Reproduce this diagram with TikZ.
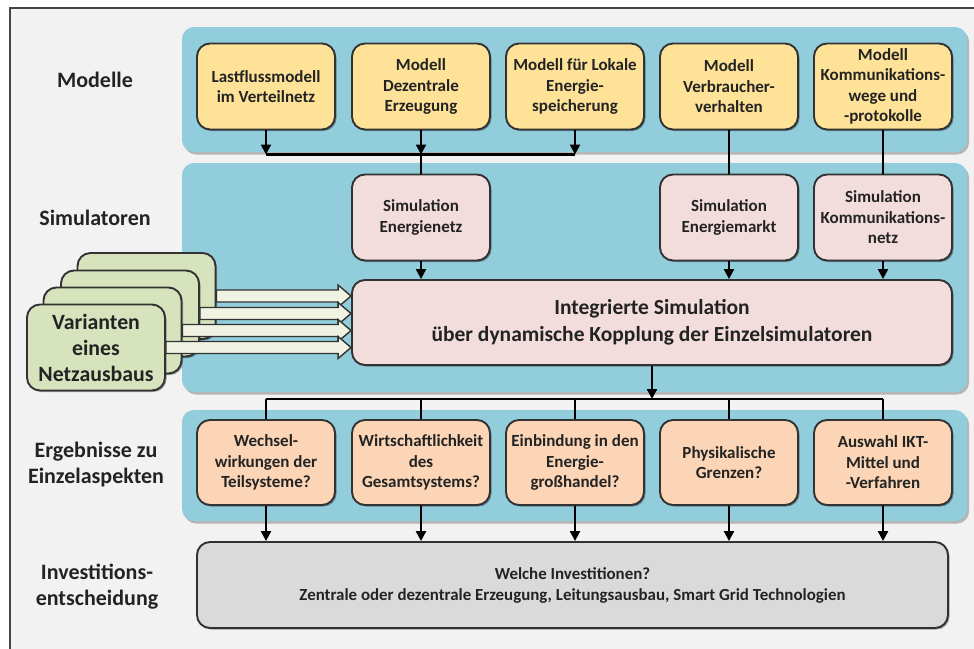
\documentclass[tikz,border=0pt]{standalone}
\usepackage{fontspec}
\setmainfont{Carlito}
\usetikzlibrary{arrows.meta,shadows,calc}

\definecolor{framefill}{RGB}{242,242,242}
\definecolor{frameline}{RGB}{70,70,70}
\definecolor{panelblue}{RGB}{146,205,220}
\definecolor{modelfill}{RGB}{254,226,152}
\definecolor{simfill}{RGB}{242,221,220}
\definecolor{resfill}{RGB}{251,213,181}
\definecolor{decfill}{RGB}{218,218,218}
\definecolor{varfill}{RGB}{215,227,189}
\definecolor{arrowfill}{RGB}{240,243,226}
\definecolor{ink}{RGB}{35,35,35}
\definecolor{edge}{RGB}{50,50,50}

\tikzset{
  panel/.style={fill=panelblue, rounded corners=12pt,
    drop shadow={shadow xshift=2pt, shadow yshift=-2.5pt, fill=black, opacity=0.25}},
  box/.style={draw=edge, line width=1.9pt, rounded corners=13pt,
    minimum width=138pt, minimum height=86pt, align=center, text=ink,
    inner sep=2pt, font=\bfseries\fontsize{17}{20.5}\selectfont,
    drop shadow={shadow xshift=1.5pt, shadow yshift=-1.5pt, fill=black, opacity=0.35}},
  modelbox/.style={box, fill=modelfill},
  simbox/.style={box, fill=simfill},
  resbox/.style={box, fill=resfill},
  varbox/.style={box, fill=varfill, font=\bfseries\fontsize{21.8}{26}\selectfont},
  rowlabel/.style={align=center, text=ink, font=\bfseries\fontsize{22}{26}\selectfont},
  conn/.style={draw=black, line width=2.2pt},
  feed/.style={conn, -{Triangle[length=10pt, width=10pt]}},
  blockarrow/.style={draw=edge, line width=1.4pt, fill=arrowfill, line join=miter}
}

% hollow block arrow from the east side of #1 to the west side of #2
\newcommand{\varianteArrow}[2]{%
  \draw[blockarrow] let \p1=(#1.east), \p2=(#2.west) in
    (\x1,\y1+6pt) -- (\x2-13pt,\y1+6pt) -- (\x2-13pt,\y1+11pt) -- (\x2,\y1)
    -- (\x2-13pt,\y1-11pt) -- (\x2-13pt,\y1-6pt) -- (\x1,\y1-6pt) -- cycle;}

\begin{document}
\begin{tikzpicture}[x=1pt, y=-1pt]
  \useasboundingbox (0,0) rectangle (974,648);
  \clip (0,0) rectangle (974,648);

  % outer frame
  \draw[draw=frameline, fill=framefill, line width=1.3pt] (10,8) rectangle (995,670);

  % row panels
  \path[panel] (182,27) rectangle (967,152);
  \path[panel] (182,163) rectangle (967,392);
  \path[panel] (182,410) rectangle (967,521);

  % row labels
  \node[rowlabel] (lmod) at (95,80) {Modelle};
  \node[rowlabel] (lsim) at (95,218) {Simulatoren};
  \node[rowlabel] (lres) at (96,465) {Ergebnisse zu\\Einzelaspekten};
  \node[rowlabel] (linv) at (97,587) {Investitions-\\entscheidung};

  % models
  \node[modelbox] (m1) at (266,86.5) {Lastflussmodell\\im Verteilnetz};
  \node[modelbox] (m2) at (421,86.5) {Modell\\Dezentrale\\Erzeugung};
  \node[modelbox] (m3) at (575,86.5) {Modell für Lokale\\Energie-\\speicherung};
  \node[modelbox] (m4) at (729,86.5) {Modell\\Verbraucher-\\verhalten};
  \node[modelbox] (m5) at (883,86.5) {Modell\\Kommunikations-\\wege und\\-protokolle};

  % simulators
  \node[simbox] (s1) at (421,217.5) {Simulation\\Energienetz};
  \node[simbox] (s2) at (729,217.5) {Simulation\\Energiemarkt};
  \node[simbox] (s3) at (883,217.5) {Simulation\\Kommunikations-\\netz};
  \node[simbox, minimum width=600pt, minimum height=85pt,
        font=\bfseries\fontsize{21.5}{27}\selectfont] (int) at (652,322.5)
        {Integrierte Simulation\\über dynamische Kopplung der Einzelsimulatoren};

  % results
  \node[resbox, minimum height=85pt] (r1) at (266,462.5) {Wechsel-\\wirkungen der\\Teilsysteme?};
  \node[resbox, minimum height=85pt] (r2) at (421,462.5) {Wirtschaftlichkeit\\des\\Gesamtsystems?};
  \node[resbox, minimum height=85pt] (r3) at (575,462.5) {Einbindung in den\\Energie-\\großhandel?};
  \node[resbox, minimum height=85pt] (r4) at (729,462.5) {Physikalische\\Grenzen?};
  \node[resbox, minimum height=85pt] (r5) at (883,462.5) {Auswahl IKT-\\Mittel und\\-Verfahren};

  % investment decision
  \node[box, fill=decfill, minimum width=751pt, minimum height=86pt,
        font=\bfseries\fontsize{16.9}{21}\selectfont] (dec) at (572.5,585)
        {Welche Investitionen?\\Zentrale oder dezentrale Erzeugung, Leitungsausbau, Smart Grid Technologien};

  % bus lines
  \coordinate (bus1) at (0,154.5);
  \coordinate (bus2) at (0,399);

  % models -> simulators
  \draw[feed] (m1.south) -- (m1.south |- bus1);
  \draw[feed] (m2.south) -- (m2.south |- bus1);
  \draw[feed] (m3.south) -- (m3.south |- bus1);
  \draw[conn] (m1.south |- bus1) -- (m3.south |- bus1);
  \draw[conn] (m2.south |- bus1) -- (s1.north);
  \draw[conn] (m4.south) -- (s2.north);
  \draw[conn] (m5.south) -- (s3.north);

  % simulators -> integrated simulation
  \draw[feed] (s1.south) -- (s1.south |- int.north);
  \draw[feed] (s2.south) -- (s2.south |- int.north);
  \draw[feed] (s3.south) -- (s3.south |- int.north);

  % integrated simulation -> results
  \draw[feed] (int.south) -- (int.south |- bus2);
  \draw[conn] (r1.north |- bus2) -- (r5.north |- bus2);
  \foreach \r in {r1,r2,r3,r4,r5} {
    \draw[conn] (\r.north |- bus2) -- (\r.north);
    \draw[feed] (\r.south) -- (\r.south |- dec.north);
  }

  % stacked grid-expansion variants
  \node[varbox] (v4) at (146.5,296) {};
  \node[varbox] (v3) at (130,313.5) {};
  \node[varbox] (v2) at (112.5,330.5) {};
  \node[varbox] (v1) at (96,347.5) {Varianten\\eines\\Netzausbaus};

  \varianteArrow{v4}{int}
  \varianteArrow{v3}{int}
  \varianteArrow{v2}{int}
  \varianteArrow{v1}{int}
\end{tikzpicture}
\end{document}
